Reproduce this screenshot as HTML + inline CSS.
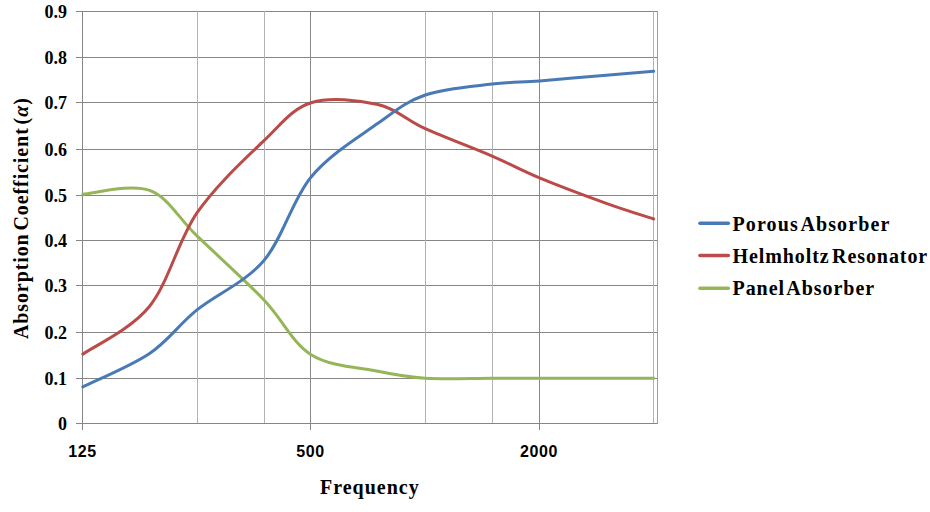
<!DOCTYPE html>
<html><head><meta charset="utf-8"><style>
html,body{margin:0;padding:0;background:#fff;width:930px;height:512px;overflow:hidden}
svg{display:block}
.serif{font-family:"Liberation Serif",serif;font-weight:bold;fill:#000}
.sans{font-family:"Liberation Sans",sans-serif;font-weight:bold;fill:#000}
</style></head><body>
<svg width="930" height="512" viewBox="0 0 930 512">
<g stroke="#868686" stroke-width="1" shape-rendering="crispEdges">
<line x1="76" y1="423.5" x2="657.5" y2="423.5"/>
<line x1="76" y1="378.5" x2="657.5" y2="378.5"/>
<line x1="76" y1="332.5" x2="657.5" y2="332.5"/>
<line x1="76" y1="285.5" x2="657.5" y2="285.5"/>
<line x1="76" y1="240.5" x2="657.5" y2="240.5"/>
<line x1="76" y1="195.5" x2="657.5" y2="195.5"/>
<line x1="76" y1="149.5" x2="657.5" y2="149.5"/>
<line x1="76" y1="102.5" x2="657.5" y2="102.5"/>
<line x1="76" y1="57.5" x2="657.5" y2="57.5"/>
<line x1="76" y1="11.5" x2="657.5" y2="11.5"/>
<line x1="197.5" y1="11" x2="197.5" y2="423" stroke="#b2b2b2"/>
<line x1="264.5" y1="11" x2="264.5" y2="423" stroke="#b2b2b2"/>
<line x1="310.5" y1="11" x2="310.5" y2="423" stroke="#888888"/>
<line x1="425.5" y1="11" x2="425.5" y2="423" stroke="#b2b2b2"/>
<line x1="492.5" y1="11" x2="492.5" y2="423" stroke="#b2b2b2"/>
<line x1="539.5" y1="11" x2="539.5" y2="423" stroke="#888888"/>
<line x1="653.5" y1="11" x2="653.5" y2="423" stroke="#b2b2b2"/>
<line x1="82.5" y1="11" x2="82.5" y2="429.5"/>
<line x1="657.5" y1="11" x2="657.5" y2="423.5" stroke="#a0a0a0"/>
<line x1="310.5" y1="423" x2="310.5" y2="429.5"/>
<line x1="539.5" y1="423" x2="539.5" y2="429.5"/>
</g>
<g fill="none" stroke-width="3.0" stroke-linejoin="round" stroke-linecap="round">
<path stroke="#96B558" d="M82.80,194.18 C93.93,193.56 130.56,183.48 149.59,190.44 C168.61,197.39 177.94,217.71 196.97,235.92 C216.00,254.12 244.73,279.88 263.76,299.68 C282.78,319.47 292.11,342.75 311.14,354.68 C330.17,366.61 358.90,367.33 377.93,371.26 C396.95,375.19 406.28,377.10 425.31,378.27 C444.34,379.44 473.07,378.29 492.10,378.31 C511.12,378.32 520.45,378.39 539.48,378.37 C558.51,378.35 587.24,378.21 606.27,378.18 C625.29,378.15 645.75,378.20 653.65,378.20"/>
<path stroke="#BA4B48" d="M82.80,354.16 C93.93,346.17 130.56,329.78 149.59,306.24 C168.61,282.69 177.94,240.46 196.97,212.90 C216.00,185.33 244.73,159.19 263.76,140.84 C282.78,122.49 292.11,108.83 311.14,102.79 C330.17,96.74 358.90,100.26 377.93,104.57 C396.95,108.88 406.28,120.07 425.31,128.66 C444.34,137.25 473.07,147.89 492.10,156.10 C511.12,164.30 520.45,170.01 539.48,177.88 C558.51,185.76 587.24,196.49 606.27,203.34 C625.29,210.19 645.75,216.36 653.65,218.97"/>
<path stroke="#4A7AB5" d="M82.80,386.91 C93.93,381.34 130.56,366.35 149.59,353.52 C168.61,340.69 177.94,325.41 196.97,309.94 C216.00,294.47 244.73,282.86 263.76,260.69 C282.78,238.52 292.11,199.81 311.14,176.92 C330.17,154.02 358.90,136.98 377.93,123.33 C396.95,109.67 406.28,101.52 425.31,94.98 C444.34,88.44 473.07,86.42 492.10,84.08 C511.12,81.74 520.45,82.46 539.48,80.97 C558.51,79.48 587.24,76.76 606.27,75.15 C625.29,73.54 645.75,71.95 653.65,71.31"/>
</g>
<g class="serif" font-size="18" text-anchor="end">
<text x="67" y="430.0">0</text>
<text x="67" y="385.0">0.1</text>
<text x="67" y="339.0">0.2</text>
<text x="67" y="292.0">0.3</text>
<text x="67" y="247.0">0.4</text>
<text x="67" y="202.0">0.5</text>
<text x="67" y="156.0">0.6</text>
<text x="67" y="109.0">0.7</text>
<text x="67" y="64.0">0.8</text>
<text x="67" y="18.0">0.9</text>
</g>
<g class="sans" font-size="16" text-anchor="middle" letter-spacing="0.6">
<text x="82.5" y="457.3">125</text>
<text x="310.5" y="457.3">500</text>
<text x="539" y="457.3">2000</text>
</g>
<text class="serif" font-size="20" x="369.8" y="493.9" text-anchor="middle" letter-spacing="1">Frequency</text>
<text class="serif" font-size="20" transform="translate(28.4,218.2) rotate(-90)" text-anchor="middle" letter-spacing="0.9" word-spacing="-3">Absorption Coefficient (<tspan font-style="italic">α</tspan>)</text>
<g stroke-width="3.6" stroke-linecap="round">
<line x1="700" y1="223.3" x2="728.3" y2="223.3" stroke="#4A7AB5"/>
<line x1="700" y1="255.5" x2="728.3" y2="255.5" stroke="#BA4B48"/>
<line x1="700" y1="288.3" x2="728.3" y2="288.3" stroke="#96B558"/>
</g>
<g class="serif" font-size="20" word-spacing="-3.5">
<text x="732.5" y="230.8" letter-spacing="1.12">Porous Absorber</text>
<text x="732.5" y="263" letter-spacing="0.92">Helmholtz Resonator</text>
<text x="732.5" y="295.2" letter-spacing="0.95">Panel Absorber</text>
</g>
</svg>
</body></html>
